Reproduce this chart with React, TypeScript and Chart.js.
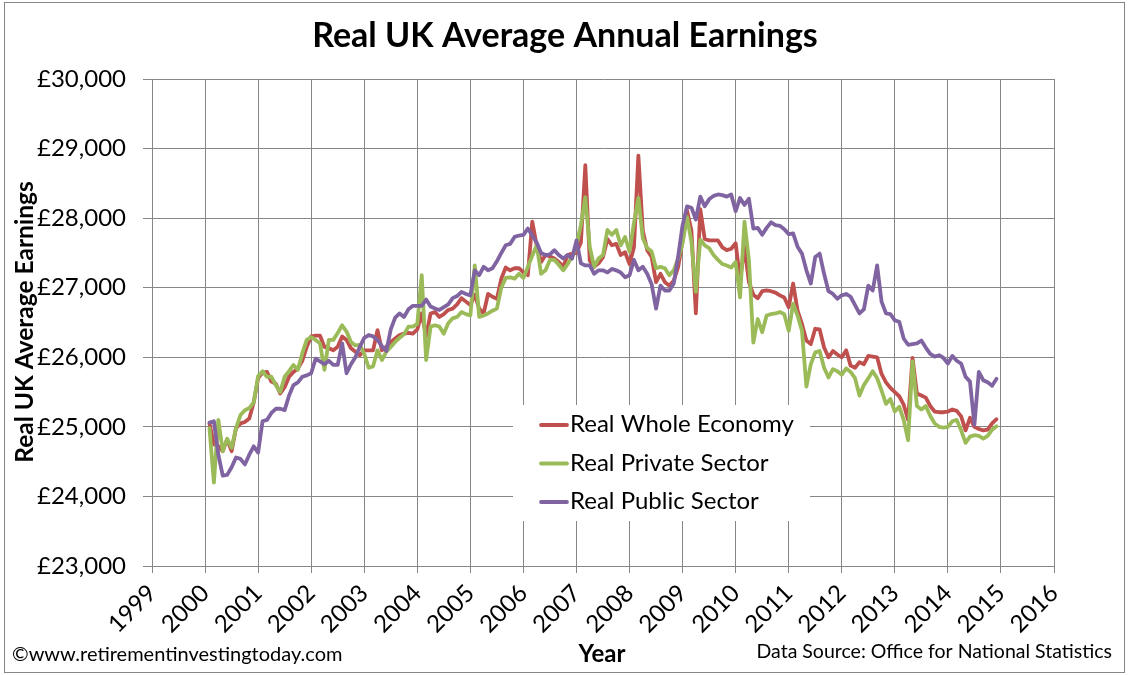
import { useEffect, useRef } from "react"
import { Chart, registerables } from "chart.js"

Chart.register(...registerables)

const FONT = "Lato, 'Open Sans', sans-serif"
const GRID = "#868686"

// monthly figures, Jan 2000 .. Nov 2014 (one row per year)
const firstYear = 2000

const wholeEconomy = [
  25050, 24750, 24720, 24650, 24820, 24650, 24980, 25050, 25070, 25120, 25350, 25700,
  25780, 25790, 25650, 25620, 25480, 25570, 25720, 25790, 25840, 25950, 26150, 26300,
  26310, 26310, 26150, 26130, 26100, 26150, 26300, 26250, 26130, 26080, 26030, 26100,
  26100, 26100, 26390, 26100, 26150, 26220, 26270, 26320, 26340, 26350, 26340, 26400,
  26630, 26300, 26630, 26650, 26580, 26620, 26680, 26700, 26760, 26850, 26800, 26750,
  26900, 26700, 26630, 26910, 26870, 26840, 27130, 27290, 27250, 27280, 27280, 27220,
  27180, 27950, 27610, 27370, 27470, 27450, 27420, 27370, 27300, 27470, 27490, 27500,
  27650, 28760, 27390, 27300, 27350, 27440, 27700, 27610, 27630, 27470, 27510, 27340,
  27580, 28900, 27820, 27540, 27440, 27080, 27200, 27080, 27030, 27100, 27300, 27680,
  28110, 27820, 26630, 28130, 27700, 27680, 27680, 27680, 27580, 27540, 27560, 27640,
  27110, 27590, 27080, 26900, 26850, 26950, 26960, 26950, 26930, 26890, 26860, 26720,
  27060, 26670, 26480, 26240, 26190, 26410, 26400, 26140, 26000, 26090, 26040, 26000,
  26100, 25880, 25850, 25930, 25900, 26020, 26010, 26000, 25760, 25640, 25560, 25500,
  25440, 25320, 25100, 25990, 25480, 25450, 25420, 25300, 25220, 25210, 25210, 25220,
  25250, 25230, 25150, 24950, 25130, 25000, 24970, 24950, 24960, 25050, 25110,
]

const privateSector = [
  24980, 24200, 25100, 24650, 24830, 24700, 24980, 25170, 25240, 25270, 25350, 25730,
  25800, 25720, 25720, 25600, 25500, 25720, 25800, 25890, 25820, 26060, 26250, 26290,
  26250, 26200, 25820, 26250, 26250, 26350, 26460, 26370, 26220, 26170, 26180, 26050,
  25850, 25870, 26100, 25960, 26080, 26150, 26220, 26280, 26330, 26440, 26440, 26480,
  27180, 25960, 26440, 26460, 26440, 26340, 26490, 26560, 26580, 26650, 26620, 26600,
  27320, 26580, 26600, 26630, 26670, 26700, 27000, 27140, 27150, 27130, 27200, 27140,
  27300, 27460, 27610, 27200, 27250, 27400, 27400, 27330, 27250, 27340, 27440, 27610,
  27900, 28300, 27590, 27300, 27420, 27470, 27830, 27760, 27830, 27610, 27730, 27520,
  27930, 28290, 27710, 27570, 27520, 27280, 27300, 27280, 27180, 27250, 27420, 27640,
  28020, 27660, 26940, 27690, 27610, 27570, 27470, 27400, 27340, 27320, 27290, 27370,
  26860, 27950, 27400, 26210, 26550, 26360, 26600, 26620, 26630, 26650, 26620, 26380,
  26770, 26600, 26380, 25580, 25900, 26070, 26090, 25850, 25710, 25830, 25800, 25750,
  25840, 25790, 25700, 25450, 25600, 25700, 25800, 25700, 25520, 25330, 25400, 25220,
  25290, 25100, 24810, 25940, 25300, 25250, 25300, 25160, 25050, 25000, 24990, 25000,
  25080, 25100, 24950, 24770, 24860, 24880, 24870, 24830, 24870, 24960, 25010,
]

const publicSector = [
  25060, 25080, 24600, 24300, 24310, 24420, 24560, 24540, 24460, 24600, 24720, 24630,
  25080, 25100, 25200, 25260, 25260, 25240, 25450, 25600, 25640, 25720, 25740, 25770,
  25980, 25940, 25900, 25950, 25890, 25890, 26200, 25770, 25900, 26000, 26150, 26280,
  26320, 26300, 26250, 26160, 26090, 26400, 26570, 26630, 26580, 26690, 26740, 26740,
  26740, 26830, 26730, 26700, 26680, 26720, 26760, 26850, 26880, 26940, 26910, 26890,
  27250, 27180, 27300, 27250, 27280, 27380, 27500, 27610, 27630, 27730, 27750, 27760,
  27850, 27750, 27650, 27500, 27470, 27480, 27540, 27470, 27420, 27470, 27420, 27680,
  27350, 27320, 27320, 27200, 27250, 27250, 27220, 27270, 27250, 27220, 27150, 27180,
  27400, 27250, 27300, 27200, 27050, 26700, 27030, 26960, 26960, 27060, 27450, 27900,
  28170, 28150, 27980, 28310, 28170, 28270, 28320, 28340, 28330, 28310, 28340, 28100,
  28290, 28190, 28280, 27850, 27860, 27760, 27860, 27940, 27900, 27890, 27840, 27770,
  27780, 27590, 27490, 27250, 27060, 27440, 27490, 27200, 26950, 26910, 26840, 26890,
  26910, 26870, 26750, 26630, 26690, 27030, 26960, 27320, 26800, 26630, 26620, 26530,
  26510, 26270, 26180, 26190, 26200, 26240, 26140, 26050, 26010, 26030, 25990, 25910,
  26020, 25950, 25910, 25720, 25650, 25030, 25790, 25670, 25640, 25590, 25690,
]

const seriesNames = ["Real Whole Economy", "Real Private Sector", "Real Public Sector"]
const seriesColors = ["#C0504D", "#9BBB59", "#8064A2"]
const seriesValues = [wholeEconomy, privateSector, publicSector]

const toPoints = (values: number[]) =>
  values.map((v, i) => ({ x: firstYear + (i + 1) / 12, y: v }))

const extras = {
  id: "extras",
  beforeDatasetsDraw(chart: Chart) {
    const ctx = chart.ctx
    ctx.save()
    // legend sits on a white patch inside the plot
    ctx.fillStyle = "#ffffff"
    ctx.fillRect(513, 405, 297, 116)
    seriesNames.forEach((name, i) => {
      const y = 425 + i * 38.5
      ctx.strokeStyle = seriesColors[i]
      ctx.lineWidth = 3.8
      ctx.lineCap = "round"
      ctx.beginPath()
      ctx.moveTo(541, y)
      ctx.lineTo(567, y)
      ctx.stroke()
      ctx.fillStyle = "#000"
      ctx.font = `24px ${FONT}`
      ctx.textAlign = "left"
      ctx.textBaseline = "alphabetic"
      ctx.fillText(name, 570, y + 7)
    })
    ctx.restore()
  },
  afterDraw(chart: Chart) {
    const ctx = chart.ctx
    ctx.save()
    ctx.strokeStyle = GRID
    ctx.lineWidth = 1
    ctx.strokeRect(4.5, 2.5, 1120, 670)

    ctx.fillStyle = "#000"
    ctx.textBaseline = "alphabetic"

    ctx.font = `bold 34px ${FONT}`
    ctx.textAlign = "center"
    ctx.fillText("Real UK Average Annual Earnings", 565, 47)

    ctx.font = `bold 24px ${FONT}`
    ctx.fillText("Year", 602, 662)

    ctx.save()
    ctx.font = `bold 24.5px ${FONT}`
    ctx.translate(33, 322)
    ctx.rotate(-Math.PI / 2)
    ctx.fillText("Real UK Average Earnings", 0, 0)
    ctx.restore()

    ctx.font = `20px ${FONT}`
    ctx.textAlign = "left"
    ctx.fillText("©www.retirementinvestingtoday.com", 12, 661)
    ctx.font = `19.5px ${FONT}`
    ctx.textAlign = "right"
    ctx.fillText("Data Source: Office for National Statistics", 1112, 658)
    ctx.restore()
  },
}

export default function App() {
  const chartRef = useRef<HTMLCanvasElement>(null)
  const chartInstanceRef = useRef<Chart | null>(null)

  useEffect(() => {
    if (!chartRef.current) return
    if (chartInstanceRef.current) chartInstanceRef.current.destroy()

    const ctx = chartRef.current.getContext("2d")
    if (!ctx) return

    chartInstanceRef.current = new Chart(ctx, {
      type: "line",
      data: {
        datasets: seriesValues.map((values, i) => ({
          label: seriesNames[i],
          data: toPoints(values),
          borderColor: seriesColors[i],
          backgroundColor: seriesColors[i],
          borderWidth: 3.8,
          borderJoinStyle: "round" as const,
          borderCapStyle: "round" as const,
          pointRadius: 0,
          tension: 0,
          fill: false,
          order: 2 - i,
        })),
      },
      options: {
        responsive: false,
        animation: false,
        events: [],
        layout: { padding: { top: 79, right: 74, left: 0, bottom: 0 } },
        plugins: {
          legend: { display: false },
          tooltip: { enabled: false },
          title: { display: false },
        },
        scales: {
          x: {
            type: "linear",
            min: 1999,
            max: 2016,
            afterFit: (scale) => {
              scale.height = 109
            },
            ticks: {
              stepSize: 1,
              autoSkip: false,
              minRotation: 45,
              maxRotation: 45,
              padding: 6,
              color: "#000",
              font: { family: FONT, size: 24 },
              callback: (value) => String(value),
            },
            grid: { color: GRID, lineWidth: 1, tickLength: 7 },
            border: { color: GRID, width: 1 },
          },
          y: {
            min: 23000,
            max: 30000,
            afterFit: (scale) => {
              scale.width = 152
            },
            ticks: {
              stepSize: 1000,
              padding: 17,
              color: "#000",
              font: { family: FONT, size: 24 },
              callback: (value) => "£" + Number(value).toLocaleString("en-GB"),
            },
            grid: { color: GRID, lineWidth: 1, tickLength: 9 },
            border: { color: GRID, width: 1 },
          },
        },
      },
      plugins: [extras],
    })

    return () => {
      if (chartInstanceRef.current) {
        chartInstanceRef.current.destroy()
        chartInstanceRef.current = null
      }
    }
  }, [])

  return (
    <div style={{ width: 1128, height: 675, background: "#fff" }}>
      <style>{"body{margin:0}"}</style>
      <canvas ref={chartRef} width={1128} height={675} style={{ display: "block" }} />
    </div>
  )
}
